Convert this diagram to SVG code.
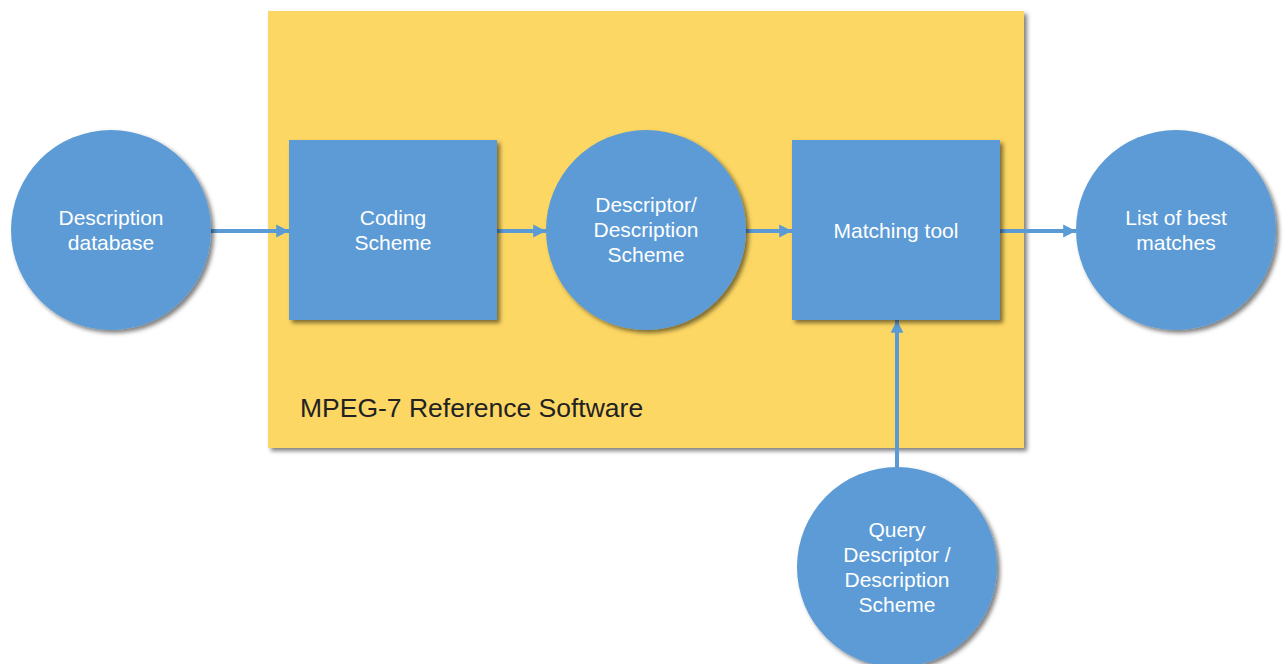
<svg xmlns="http://www.w3.org/2000/svg" width="1287" height="664" viewBox="0 0 1287 664">
<defs>
<style>
.node{fill:#5b9bd5;filter:url(#sh);}
.lbl{font-family:"Liberation Sans",Arial,sans-serif;font-size:21px;fill:#ffffff;text-anchor:middle;}
.conn{stroke:#5b9bd5;stroke-width:4;fill:none;marker-end:url(#ah);}
.title{font-family:"Liberation Sans",Arial,sans-serif;font-size:26.5px;fill:#222222;}
</style>
<filter id="sh" x="-20%" y="-20%" width="140%" height="140%">
<feDropShadow dx="3" dy="3" stdDeviation="2" flood-color="#000" flood-opacity="0.5"/>
</filter>
<marker id="ah" viewBox="0 0 10 10" refX="10" refY="5" markerWidth="3.2" markerHeight="3.4" orient="auto" markerUnits="strokeWidth">
<path d="M0,0 L10,5 L0,10 Z" fill="#5b9bd5"/>
</marker>
</defs>
<rect x="0" y="0" width="1287" height="664" fill="#ffffff"/>
<g id="container">
<rect x="268" y="11" width="756" height="437" fill="#fdd764" filter="url(#sh)"/>
<text class="title" x="300" y="417">MPEG-7 Reference Software</text>
</g>
<g id="connectors">
<line class="conn" x1="211" y1="231" x2="289" y2="231"/>
<line class="conn" x1="497" y1="231" x2="546" y2="231"/>
<line class="conn" x1="746" y1="231" x2="792" y2="231"/>
<line class="conn" x1="1000" y1="231" x2="1076" y2="231"/>
<line class="conn" x1="897" y1="467" x2="897" y2="320"/>
</g>
<g id="description-database">
<circle class="node" cx="111" cy="230" r="100"/>
<text class="lbl" x="111" y="225">Description</text>
<text class="lbl" x="111" y="250">database</text>
</g>
<g id="coding-scheme">
<rect class="node" x="289" y="140" width="208" height="180"/>
<text class="lbl" x="393" y="225">Coding</text>
<text class="lbl" x="393" y="250">Scheme</text>
</g>
<g id="descriptor-ds">
<circle class="node" cx="646" cy="230" r="100"/>
<text class="lbl" x="646" y="212">Descriptor/</text>
<text class="lbl" x="646" y="237">Description</text>
<text class="lbl" x="646" y="262">Scheme</text>
</g>
<g id="matching-tool">
<rect class="node" x="792" y="140" width="208" height="180"/>
<text class="lbl" x="896" y="238">Matching tool</text>
</g>
<g id="best-matches">
<circle class="node" cx="1176" cy="230" r="100"/>
<text class="lbl" x="1176" y="225">List of best</text>
<text class="lbl" x="1176" y="250">matches</text>
</g>
<g id="query">
<circle class="node" cx="897" cy="567" r="100"/>
<text class="lbl" x="897" y="537">Query</text>
<text class="lbl" x="897" y="562">Descriptor /</text>
<text class="lbl" x="897" y="587">Description</text>
<text class="lbl" x="897" y="612">Scheme</text>
</g>
</svg>
